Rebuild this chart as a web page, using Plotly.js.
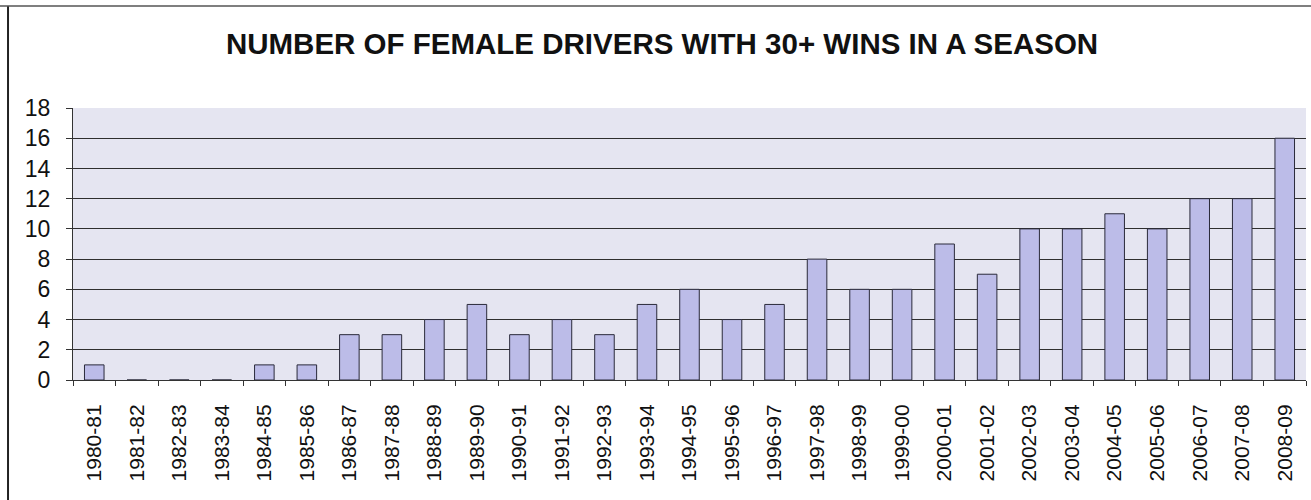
<!DOCTYPE html>
<html>
<head>
<meta charset="utf-8">
<script src="https://cdn.plot.ly/plotly-3.0.1.min.js"></script>
<style>
html,body{margin:0;padding:0;background:#fff;}
#chart{width:1311px;height:500px;}
</style>
</head>
<body>
<div id="chart"></div>
<script>
const seasons = ["1980-81","1981-82","1982-83","1983-84","1984-85","1985-86","1986-87","1987-88","1988-89","1989-90","1990-91","1991-92","1992-93","1993-94","1994-95","1995-96","1996-97","1997-98","1998-99","1999-00","2000-01","2001-02","2002-03","2003-04","2004-05","2005-06","2006-07","2007-08","2008-09"];
const drivers = [1,0,0,0,1,1,3,3,4,5,3,4,3,5,6,4,5,8,6,6,9,7,10,10,11,10,12,12,16];
const yTicks = [0,2,4,6,8,10,12,14,16,18];
const chartTitle = "NUMBER OF FEMALE DRIVERS WITH 30+ WINS IN A SEASON";

const font = "Liberation Sans, Arial, sans-serif";

const trace = {
  type: "bar",
  x: seasons,
  y: drivers,
  marker: {color: "#bcbce8", line: {color: "#2a2a3a", width: 1}},
  hoverinfo: "x+y"
};

const layout = {
  width: 1311, height: 500,
  margin: {l: 73, r: 5, t: 108, b: 120},
  paper_bgcolor: "#ffffff",
  plot_bgcolor: "#e5e5f1",
  showlegend: false,
  bargap: 0.54,
  title: {
    text: "<b>" + chartTitle + "</b>",
    font: {family: font, size: 29.5, color: "#111"},
    x: 0.505, xref: "container", xanchor: "center",
    y: 0.912, yref: "container", yanchor: "middle"
  },
  xaxis: {
    type: "category",
    tickangle: -90,
    tickfont: {family: font, size: 21, color: "#111"},
    ticks: "outside", ticklen: 5, tickcolor: "#333",
    tickson: "boundaries",
    showline: true, linecolor: "#333", linewidth: 1,
    showgrid: false,
    ticklabelstandoff: 15
  },
  yaxis: {
    range: [0, 18],
    tickvals: yTicks,
    ticktext: yTicks.map(String),
    tickfont: {family: font, size: 23, color: "#111"},
    ticks: "outside", ticklen: 6, tickcolor: "#333",
    showline: true, linecolor: "#333", linewidth: 1,
    showgrid: true, gridcolor: "#2e2e2e", gridwidth: 1.2,
    zeroline: false,
    ticklabelstandoff: 11
  },
  shapes: [
    {type: "line", xref: "paper", yref: "paper", x0: -0.0527, x1: -0.0527, y0: 1.375, y1: -0.45, line: {color: "#222", width: 2}},
    {type: "line", xref: "paper", yref: "paper", x0: -0.06, x1: 1.01, y0: 1.375, y1: 1.375, line: {color: "#555", width: 1.5}}
  ]
};

Plotly.newPlot("chart", [trace], layout, {displayModeBar: false, staticPlot: true});
</script>
</body>
</html>
